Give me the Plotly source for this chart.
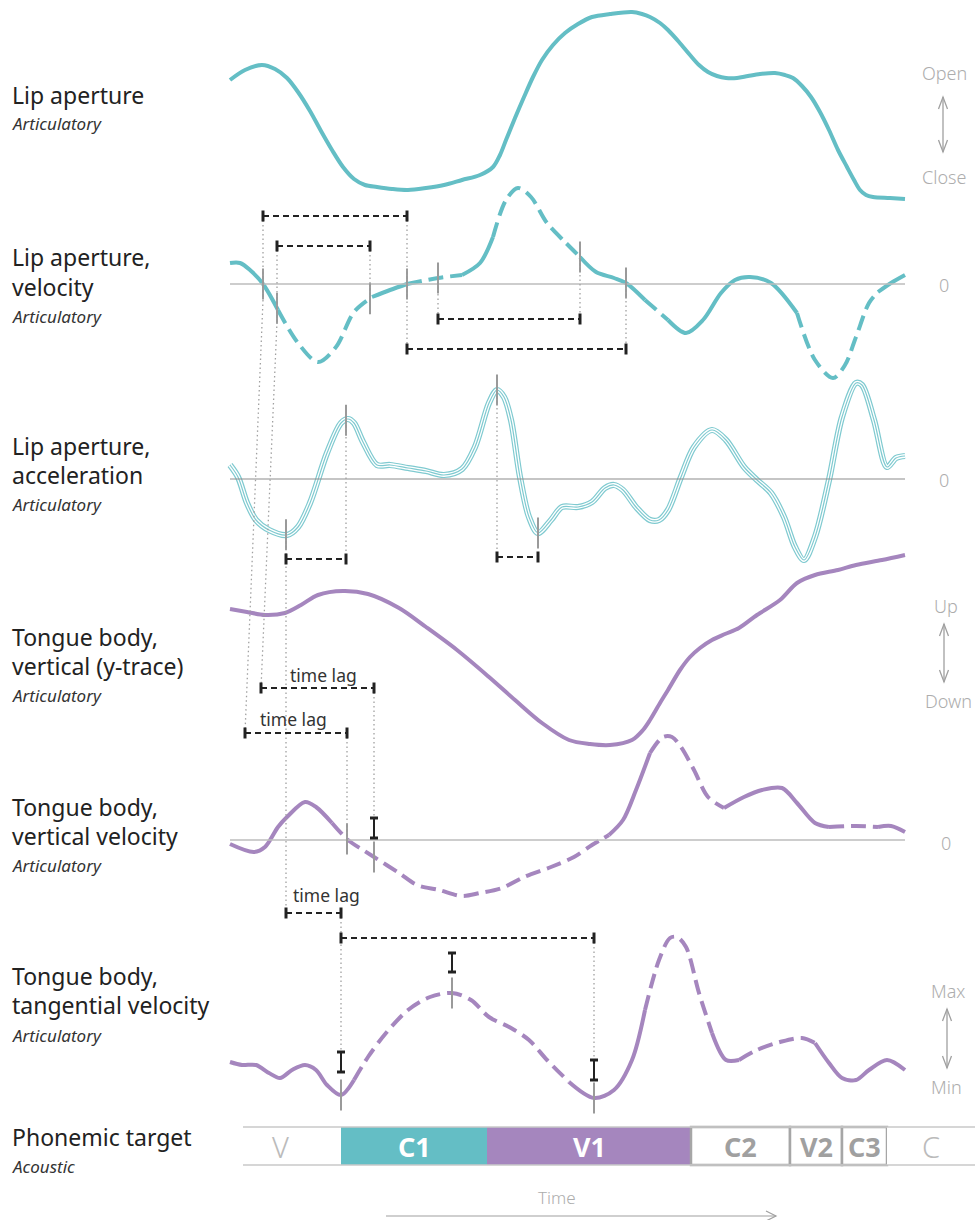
import numpy as np
import plotly.graph_objects as go

# ---------------- data (time in ms from segment onset; values in relative units) ----------------
lip_ap_t = [0, 15, 32, 45, 57, 68, 80, 91, 102, 113, 124, 135, 147, 162, 178, 196, 214, 232, 250, 263,
            270, 276, 285, 294, 303, 312, 323, 335, 348, 362, 380, 402, 412, 420, 430, 438, 449, 460, 469, 478,
            487, 496, 507, 518, 530, 545, 555, 563, 572, 581, 590, 599, 608, 617, 624, 630, 636, 643, 660, 675]
lip_ap_v = [120, 130, 135, 131, 122, 108, 89, 69, 50, 33, 21, 15, 13, 11, 10, 12, 15, 20, 25, 33,
            45, 60, 82, 103, 123, 140, 155, 167, 176, 183, 186, 188, 186, 183, 177, 170, 158, 145, 135, 128,
            124, 122, 122, 124, 126, 127, 125, 122, 114, 103, 88, 70, 50, 33, 20, 10, 5, 3, 2, 1]

lip_vel_t = [0, 10, 20, 33, 48, 68, 88, 106, 124, 142, 160, 177, 192, 208, 232, 250, 263, 276, 288, 301,
             317, 335, 350, 366, 384, 396, 415, 438, 456, 473, 491, 505, 520, 541, 567, 585, 603, 615, 626, 639,
             648, 661, 675]
lip_vel_v = [21, 21, 14, 0, -26, -59, -78, -63, -28, -13, -6, 0, 3, 6, 9, 21, 47, 84, 96, 87,
             61, 42, 27, 12, 6, 1, -16, -36, -49, -36, -9, 4, 7, 1, -29, -76, -94, -81, -53, -19,
             -8, 1, 9]

lip_acc_t = [0, 8, 17, 26, 39, 57, 68, 80, 97, 111, 118, 124, 133, 147, 160, 178, 196, 214, 232, 245,
             259, 267, 274, 281, 290, 299, 308, 321, 332, 348, 362, 375, 384, 393, 406, 420, 429, 438, 451, 464,
             482, 496, 514, 527, 541, 554, 565, 574, 585, 599, 612, 626, 632, 644, 657, 666, 675]
lip_acc_v = [14, 2, -24, -41, -51, -56, -48, -24, 26, 56, 60, 56, 37, 14, 14, 11, 8, 4, 10, 32,
             76, 89, 82, 59, 2, -38, -54, -41, -28, -28, -23, -9, -6, -11, -28, -41, -41, -31, 2, 32,
             49, 39, 12, -1, -14, -38, -68, -81, -58, -1, 62, 96, 94, 59, 12, 21, 23]

tb_y_t = [0, 17, 35, 55, 71, 88, 113, 138, 169, 196, 227, 259, 285, 312, 339, 360, 380, 402, 413, 420,
          430, 438, 450, 460, 470, 482, 495, 509, 527, 550, 567, 585, 608, 626, 652, 675]
tb_y_v = [141, 138, 135, 137, 145, 155, 159, 156, 142, 123, 100, 73, 50, 27, 10, 6, 5, 10, 20, 30,
          47, 60, 80, 93, 102, 110, 116, 122, 135, 150, 167, 175, 180, 185, 190, 195]

tb_vel_t = [0, 24, 35, 48, 57, 75, 86, 102, 118, 133, 144, 169, 187, 209, 232, 250, 272, 294, 321, 344,
            362, 379, 393, 406, 420, 433, 442, 451, 464, 478, 494, 514, 532, 552, 567, 585, 599, 626, 648, 661,
            675]
tb_vel_v = [-4, -12, -7, 13, 23, 38, 33, 17, 0, -10, -17, -33, -45, -50, -56, -53, -48, -37, -27, -17,
            -5, 5, 20, 50, 87, 103, 103, 93, 70, 43, 32, 43, 50, 52, 37, 17, 13, 14, 13, 14,
            8]

tb_tan_t = [0, 12, 26, 39, 50, 62, 75, 86, 97, 111, 124, 138, 156, 178, 200, 222, 241, 259, 281, 299,
            317, 339, 364, 384, 402, 415, 429, 440, 447, 456, 469, 482, 496, 509, 527, 550, 572, 585, 599, 612,
            626, 639, 657, 675]
tb_tan_v = [38, 35, 35, 27, 22, 30, 35, 30, 15, 5, 20, 43, 67, 90, 103, 107, 100, 83, 72, 60,
            40, 18, 2, 10, 40, 90, 140, 162, 163, 153, 107, 67, 40, 40, 50, 58, 62, 57, 37, 22,
            20, 30, 40, 30]

# landmark events (ms)
lip_vel_events = [33, 47, 140, 177, 208, 350, 396]
lip_acc_events = [56, 116, 267, 308]
tb_vel_events = [117, 144]
tb_tan_events = [111, 222, 364]

# phonemic targets
phon_labels = ["V", "C1", "V1", "C2", "V2", "C3", "C"]
phon_start = [13, 111, 257, 461, 560, 612, 657]
phon_end = [111, 257, 461, 560, 612, 657, 745]

# panel texts
panel_titles = [["Lip aperture"], ["Lip aperture,", "velocity"], ["Lip aperture,", "acceleration"],
                ["Tongue body,", "vertical (y-trace)"], ["Tongue body,", "vertical velocity"],
                ["Tongue body,", "tangential velocity"], ["Phonemic target"]]
panel_subtitles = ["Articulatory"] * 6 + ["Acoustic"]

# ---------------- styling / layout ----------------
W, H = 978, 1220
FONT = "'Noto Sans', 'Open Sans', sans-serif"
TEAL = "#64BEC5"
TEAL_L = "#7FCAD0"
PURPLE = "#A586BE"
INK = "#222222"
TICK = "#9A9A9A"
DOT = "#A0A0A0"
GREY_T = "#ADADAD"

BASE = {"y2": 200, "y3": 284, "y4": 479, "y5": 750, "y6": 840, "y7": 1100, "y8": 1146}

fig = go.Figure()
shapes = []


def add_line(x0, y0, x1, y1, color, width, dash="solid", xref="x", yref="y"):
    shapes.append(dict(type="line", x0=x0, y0=y0, x1=x1, y1=y1, xref=xref, yref=yref,
                       line=dict(color=color, width=width, dash=dash), layer="above"))


def add_path(path, color, width, xref="paper", yref="y"):
    shapes.append(dict(type="path", path=path, xref=xref, yref=yref,
                       line=dict(color=color, width=width), layer="above"))


def curve(t, v, axis, color, width, dashed=()):
    t = np.asarray(t, float)
    v = np.asarray(v, float)
    flags = [any(a <= (t[i] + t[i + 1]) / 2 <= b for a, b in dashed) for i in range(len(t) - 1)]
    i = 0
    while i < len(flags):
        j = i
        while j < len(flags) and flags[j] == flags[i]:
            j += 1
        fig.add_trace(go.Scatter(
            x=t[i:j + 1], y=v[i:j + 1], yaxis=axis, mode="lines",
            line=dict(color=color, width=width, shape="spline", smoothing=0.9,
                      dash="15px,7px" if flags[i] else "solid"),
            hoverinfo="skip", showlegend=False))
        i = j


def ticks(events, t, v, axis):
    for e in events:
        c = float(np.interp(e, t, v))
        add_line(e, c - 15.5, e, c + 15.5, TICK, 2, yref=axis)


def bracket(t0, t1, y):
    add_line(t0, y, t1, y, INK, 2.2, dash="6px,4px")
    for tt in (t0, t1):
        add_line(tt, y - 5.5, tt, y + 5.5, INK, 3)


def ibar(t, y0, y1):
    add_line(t, y0, t, y1, INK, 2)
    for yy in (y0, y1):
        add_line(t - 4, yy, t + 4, yy, INK, 3)


def dotted(t0, y0, t1, y1):
    add_line(t0, y0, t1, y1, DOT, 1.3, dash="1.5px,3px")


def dbl_arrow(xpx, ytop, ybot):
    x = xpx / W
    dx = 4.5 / W
    add_line(x, ytop, x, ybot, "#A0A0A0", 1.3, xref="paper")
    add_path(f"M {x - dx} {ytop + 12} L {x} {ytop} L {x + dx} {ytop + 12}", "#A0A0A0", 1.3)
    add_path(f"M {x - dx} {ybot - 12} L {x} {ybot} L {x + dx} {ybot - 12}", "#A0A0A0", 1.3)


def text(s, x, y, size, color, xref="paper", anchor="left", italic=False, weight="normal"):
    fig.add_annotation(x=x, y=y, xref=xref, yref="y", text=s, showarrow=False,
                       xanchor=anchor, yanchor="middle",
                       font=dict(family=FONT, size=size, color=color,
                                 style="italic" if italic else "normal", weight=weight))


# zero lines
add_line(0, 0, 675, 0, "#BDBDBD", 1.5, yref="y3")
add_line(0, 0, 675, 0, "#8C8C8C", 1.2, yref="y4")
add_line(0, 0, 675, 0, "#BDBDBD", 1.5, yref="y6")

# curves
curve(lip_ap_t, lip_ap_v, "y2", TEAL, 4)
curve(lip_vel_t, lip_vel_v, "y3", TEAL, 4,
      dashed=[(45, 142), (177, 225), (259, 350), (415, 438), (563, 650)])
curve(lip_acc_t, lip_acc_v, "y4", TEAL_L, 6.2)
curve(lip_acc_t, lip_acc_v, "y4", "white", 3.8)
curve(lip_acc_t, lip_acc_v, "y4", TEAL_L, 1.2)
curve(tb_y_t, tb_y_v, "y5", PURPLE, 4)
curve(tb_vel_t, tb_vel_v, "y6", PURPLE, 4, dashed=[(95, 380), (420, 490), (595, 650)])
curve(tb_tan_t, tb_tan_v, "y7", PURPLE, 4, dashed=[(124, 348), (411, 482), (514, 585)])

# landmark ticks
ticks(lip_vel_events, lip_vel_t, lip_vel_v, "y3")
ticks(lip_acc_events, lip_acc_t, lip_acc_v, "y4")
ticks(tb_vel_events, tb_vel_t, tb_vel_v, "y6")
ticks(tb_tan_events, tb_tan_t, tb_tan_v, "y7")

e, a, vv, g = lip_vel_events, lip_acc_events, tb_vel_events, tb_tan_events

# dotted guide lines (page pixel y)
dotted(e[0], 216, e[0], 300)
dotted(e[0], 300, 15, 733)
dotted(e[1], 246, e[1], 322)
dotted(e[1], 322, 31, 688)
dotted(e[2], 246, e[2], 296)
dotted(e[3], 216, e[3], 349)
dotted(e[4], 276, e[4], 319)
dotted(e[5], 257, e[5], 319)
dotted(e[6], 283, e[6], 349)
dotted(a[0], 535, a[0], 913)
dotted(a[1], 419, a[1], 559)
dotted(a[2], 390, a[2], 557)
dotted(vv[1], 688, vv[1], 818)
dotted(vv[0], 733, vv[0], 840)
dotted(g[0], 913, g[0], 1052)
dotted(g[2], 938, g[2], 1060)

# interval brackets
bracket(e[0], e[3], 216)
bracket(e[1], e[2], 246)
bracket(e[4], e[5], 319)
bracket(e[3], e[6], 349)
bracket(a[0], a[1], 559)
bracket(a[2], a[3], 557)
bracket(31, vv[1], 688)
bracket(15, vv[0], 733)
bracket(a[0], g[0], 913)
bracket(g[0], g[2], 938)

# amplitude bars
ibar(vv[1], 818, 838)
ibar(g[0], 1052, 1072)
ibar(g[1], 953, 972)
ibar(g[2], 1060, 1080)

# time-lag labels
text("time lag", 58, 675, 17.5, "#333333", xref="x")
text("time lag", 28, 719, 17.5, "#333333", xref="x")
text("time lag", 61, 895, 17.5, "#333333", xref="x")

# left panel labels
title_y = [[95], [257, 287], [446, 475], [637, 666], [807, 836], [976, 1005], [1137]]
sub_y = [123, 316, 504, 695, 865, 1035, 1166]
for lines, ys, sub, sy in zip(panel_titles, title_y, panel_subtitles, sub_y):
    for s, yy in zip(lines, ys):
        text(s, 10 / W, yy, 23, INK)
    text(sub, 10 / W, sy, 17, "#333333", italic=True)

# right-side scale labels
for s, xx, yy in [("Open", 944, 73), ("Close", 944, 177), ("0", 944, 285), ("0", 944, 480),
                  ("Up", 946, 606), ("Down", 948, 701), ("0", 946, 843), ("Max", 948, 991), ("Min", 946, 1087)]:
    text(s, xx / W, yy, 18, GREY_T, anchor="center", weight=300)
dbl_arrow(943, 97, 152)
dbl_arrow(944, 624, 682)
dbl_arrow(947, 1009, 1068)

# phonemic target bar
dur = (np.array(phon_end) - np.array(phon_start)).tolist()
fills = ["white", TEAL, PURPLE, "white", "white", "white", "white"]
lw = [0, 0, 0, 2.5, 2.5, 2.5, 0]
fig.add_trace(go.Bar(y=[0] * 7, x=dur, base=phon_start, orientation="h", width=[38] * 7, yaxis="y8",
                     marker=dict(color=fills, line=dict(color="#A6A6A6", width=lw)),
                     hoverinfo="skip", showlegend=False))
add_line(phon_start[0], 1127, phon_end[-1], 1127, "#C8C8C8", 1.5)
add_line(phon_start[0], 1165, phon_end[-1], 1165, "#C8C8C8", 1.5)
lab_col = ["#BBBBBB", "white", "white", "#A0A0A0", "#A0A0A0", "#A0A0A0", "#BBBBBB"]
lab_w = [300, "bold", "bold", "bold", "bold", "bold", 300]
lab_size = [29, 27, 27, 27, 27, 27, 29]
for lab, s0, s1, c, wgt, sz in zip(phon_labels, phon_start, phon_end, lab_col, lab_w, lab_size):
    cx = (s0 + s1) / 2
    if lab == "V":
        cx -= 12
    text(lab, cx, 1146, sz, c, xref="x", anchor="center", weight=wgt)

# time arrow
text("Time", 557 / W, 1197, 17, GREY_T, anchor="center", weight=300)
add_line(386 / W, 1216, 776 / W, 1216, "#A0A0A0", 1.2, xref="paper")
add_path(f"M {(766) / W} 1211 L {776 / W} 1216 L {766 / W} 1221", "#A0A0A0", 1.2)

layout = dict(
    width=W, height=H, autosize=False,
    margin=dict(l=0, r=0, t=0, b=0, pad=0),
    paper_bgcolor="white", plot_bgcolor="white",
    showlegend=False, shapes=shapes,
    xaxis=dict(range=[-230, 748], domain=[0, 1], visible=False, fixedrange=True),
    yaxis=dict(range=[H, 0], domain=[0, 1], visible=False, fixedrange=True),
    font=dict(family=FONT),
)
for k, b in BASE.items():
    layout["yaxis" + k[1:]] = dict(range=[b - H, b], domain=[0, 1], overlaying="y", anchor="x",
                                   visible=False, fixedrange=True)
fig.update_layout(**layout)

fig.write_html("out.html", config={"displayModeBar": False},
               post_script="document.body.style.margin='0';")
